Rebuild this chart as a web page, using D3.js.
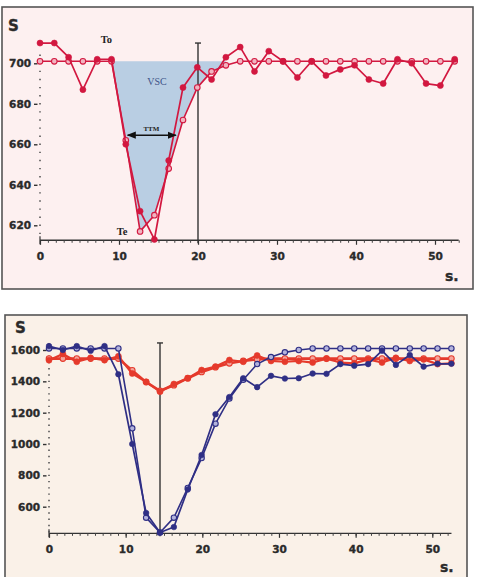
<!DOCTYPE html>
<html><head><meta charset="utf-8">
<script src="https://cdn.jsdelivr.net/npm/d3@7"></script>
<style>body{margin:0;background:#fff}svg{display:block}</style>
</head><body>
<script>
// ---- data ----
const times = [0,1.81,3.62,5.43,7.24,9.05,10.86,12.67,14.48,16.29,18.1,19.91,21.72,23.53,25.34,27.15,28.96,30.77,32.58,34.39,36.2,38.01,39.82,41.63,43.44,45.25,47.06,48.87,50.68,52.49];
// top panel (S)
const topMeasured = [710,710,703,687,702,702,660,627,613,652,688,698,692,703,708,696,706,701,693,701,694,697,699,692,690,702,700,690,689,702];
const topFit      = [701,701,701,701,701,701,662,617,625,648,672,688,696,699,701,701,701,701,701,701,701,701,701,701,701,701,701,701,701,701];
const topYTicks = [620,640,660,680,700];
const topXTicks = [0,10,20,30,40,50];
const topMarker = 20;      // vertical line (s)
const ttm = [11.1, 17.2];  // TTM arrow extent (s)
const ttmLevel = 664.5;
// bottom panel (S)
const botBlueMeasured = [1625,1600,1625,1595,1625,1445,1000,560,435,470,710,930,1190,1300,1420,1363,1435,1418,1420,1450,1448,1510,1500,1510,1596,1505,1568,1494,1512,1512];
const botBlueFit      = [1610,1610,1610,1610,1610,1610,1100,530,435,530,720,910,1130,1290,1410,1510,1555,1585,1600,1610,1610,1610,1610,1610,1610,1610,1610,1610,1610,1610];
const botRedMeasured  = [1535,1575,1525,1550,1535,1560,1450,1397,1334,1383,1419,1472,1494,1536,1525,1565,1530,1525,1530,1520,1545,1520,1515,1540,1520,1550,1530,1540,1510,1515];
const botRedFit       = [1545,1545,1545,1545,1545,1545,1470,1395,1340,1375,1420,1460,1490,1515,1530,1540,1545,1545,1545,1545,1545,1545,1545,1545,1545,1545,1545,1545,1545,1545];
const botYTicks = [600,800,1000,1200,1400,1600];
const botXTicks = [0,10,20,30,40,50];
const botMarker = 14.48;

const svg = d3.select("body").append("svg").attr("width",477).attr("height",577);
const labFont = "DejaVu Sans, sans-serif";
const ink = "#2a2a2a";

function boldText(sel, size){
  sel.attr("font-family",labFont).attr("font-weight","bold").attr("font-size",size)
    .attr("fill",ink).attr("stroke",ink).attr("stroke-width",0.35);
}

function panel(o){
  const g = svg.append("g");
  g.append("rect").attr("x",o.box[0]).attr("y",o.box[1]).attr("width",o.box[2]).attr("height",o.box[3])
    .attr("fill",o.bg).attr("stroke","#555").attr("stroke-width",1.6);
  const x = d3.scaleLinear().domain([0,50]).range([o.x0,o.x50]);
  const y = d3.scaleLinear().domain(o.yRef).range(o.yPx);
  const axisY = y(o.yMin);
  // x axis: minor + major
  const minor = d3.axisBottom(x).tickValues(d3.range(0,Math.floor(o.xMax)+1,1)).tickSize(2.5).tickFormat("").tickSizeOuter(0);
  const gm = g.append("g").attr("transform",`translate(0,${axisY})`).call(minor);
  gm.select(".domain").attr("d",`M${x(0)},0H${x(o.xMax)}`).attr("stroke","#333").attr("stroke-width",1.4);
  gm.selectAll(".tick line").attr("stroke","#444").attr("stroke-width",1);
  const major = d3.axisBottom(x).tickValues(o.xTicks).tickSize(4.5).tickPadding(8).tickSizeOuter(0).tickFormat(d3.format("d"));
  const gM = g.append("g").attr("transform",`translate(0,${axisY})`).call(major);
  gM.select(".domain").remove();
  gM.selectAll(".tick line").attr("stroke","#333").attr("stroke-width",1.2);
  boldText(gM.selectAll("text"), 10.5);
  g.append("line").attr("x1",x(0)).attr("x2",x(0)).attr("y1",axisY-4).attr("y2",axisY+4).attr("stroke","#333").attr("stroke-width",1.2);
  // y axis: dotted minor ticks, separated major dashes
  const yMinor = d3.range(o.yRef[0]-o.minorStep*Math.floor((o.yRef[0]-o.yMin)/o.minorStep), o.yMaxDots+0.01, o.minorStep);
  g.append("g").selectAll("line").data(yMinor).join("line")
    .attr("x1",x(0)-0.8).attr("x2",x(0)+0.8).attr("y1",d=>y(d)).attr("y2",d=>y(d))
    .attr("stroke","#555").attr("stroke-width",1.4);
  const yl = d3.axisLeft(y).tickValues(o.yTicks).tickSize(0).tickPadding(o.yPad).tickFormat(d3.format("d"));
  const gy = g.append("g").attr("transform",`translate(${x(0)},0)`).call(yl);
  gy.select(".domain").remove();
  boldText(gy.selectAll("text"), 10.5);
  gy.selectAll(".tick").append("line").attr("x1",-6).attr("x2",-2.5).attr("stroke","#333").attr("stroke-width",1.4);
  boldText(g.append("text").attr("x",o.sPos[0]).attr("y",o.sPos[1]).text("S"), 15);
  boldText(g.append("text").attr("x",o.sPos2[0]).attr("y",o.sPos2[1]).text("s."), 14);
  return {g,x,y,axisY};
}

function series(p, vals, color, width, open, r){
  const pts = times.map((t,i)=>[t,vals[i]]);
  const line = d3.line().x(d=>p.x(d[0])).y(d=>p.y(d[1]));
  p.g.append("path").attr("d",line(pts)).attr("fill","none").attr("stroke",color).attr("stroke-width",width).attr("stroke-linejoin","round");
  p.g.append("g").selectAll("circle").data(pts).join("circle")
    .attr("cx",d=>p.x(d[0])).attr("cy",d=>p.y(d[1])).attr("r",r)
    .attr("fill",open?open:color).attr("stroke",color).attr("stroke-width",open?1.1:0.6);
}

function vline(p, t, top){
  p.g.append("line").attr("x1",p.x(t)).attr("x2",p.x(t)).attr("y1",p.y(top)).attr("y2",p.axisY+3).attr("stroke","#333").attr("stroke-width",1.4);
  p.g.append("line").attr("x1",p.x(t)-3).attr("x2",p.x(t)+3).attr("y1",p.y(top)).attr("y2",p.y(top)).attr("stroke","#333").attr("stroke-width",1.4);
}

// ---- top panel ----
const P1 = panel({box:[2,7,471,282], bg:"#fdf0f0", x0:40, x50:435, yRef:[620,700], yPx:[225.3,63.3], yMin:612.6, yMaxDots:704,
  minorStep:4, xMax:53, xTicks:topXTicks, yTicks:topYTicks, yPad:9, sPos:[8,31], sPos2:[445,281]});
// VSC area
const area = d3.area().x(d=>P1.x(d[0])).y0(P1.y(701)).y1(d=>P1.y(Math.min(d[1],701)));
const areaPts = times.map((t,i)=>[t,topFit[i]]).filter(d=>d[0]>=9.05&&d[0]<=23.6);
P1.g.append("path").attr("d",area(areaPts)).attr("fill","#b5cbe2").attr("opacity",0.95);
vline(P1, topMarker, 710);
const red1 = "#d21840";
series(P1, topFit, red1, 1.6, "#f1b4c0", 2.8);
series(P1, topMeasured, red1, 1.7, null, 3);
// TTM arrow
const ay = P1.y(ttmLevel);
P1.g.append("defs").html('<marker id="ah" viewBox="0 0 10 10" refX="9" refY="5" markerWidth="6" markerHeight="6" orient="auto-start-reverse"><path d="M0,1L10,5L0,9z" fill="#111"/></marker>');
P1.g.append("line").attr("x1",P1.x(ttm[0])).attr("x2",P1.x(ttm[1])).attr("y1",ay).attr("y2",ay)
  .attr("stroke","#111").attr("stroke-width",1.5).attr("marker-start","url(#ah)").attr("marker-end","url(#ah)");
const serif = "Liberation Serif, DejaVu Serif, serif";
P1.g.append("text").attr("x",P1.x(14.1)).attr("y",ay-4).attr("text-anchor","middle").text("TTM").attr("font-family",serif).attr("font-size",7).attr("font-weight","bold").attr("fill","#222");
P1.g.append("text").attr("x",P1.x(14.8)).attr("y",P1.y(691.2)+4).attr("text-anchor","middle").text("VSC").attr("font-family",serif).attr("font-size",10).attr("fill","#3e5488");
P1.g.append("text").attr("x",P1.x(8.4)).attr("y",P1.y(712)+4).attr("text-anchor","middle").text("To").attr("font-family",serif).attr("font-size",10.5).attr("font-weight","bold").attr("fill","#222");
P1.g.append("text").attr("x",P1.x(10.4)).attr("y",P1.y(617)+4).attr("text-anchor","middle").text("Te").attr("font-family",serif).attr("font-size",10.5).attr("font-weight","bold").attr("fill","#222");

// ---- bottom panel ----
const P2 = panel({box:[5,315,462,275], bg:"#faf1e8", x0:49, x50:432.3, yRef:[600,1600], yPx:[506.7,350], yMin:430, yMaxDots:1645,
  minorStep:40, xMax:52.5, xTicks:botXTicks, yTicks:botYTicks, yPad:9, sPos:[15,333], sPos2:[440,572]});
vline(P2, botMarker, 1645);
const redB = "#e53a2c", blue = "#2f2f85";
series(P2, botRedFit, redB, 2.6, "#f4a59c", 2.8);
series(P2, botRedMeasured, redB, 2.2, null, 3);
series(P2, botBlueFit, blue, 1.6, "#b3b3dc", 2.7);
series(P2, botBlueMeasured, blue, 1.7, null, 2.8);
</script>
</body></html>
